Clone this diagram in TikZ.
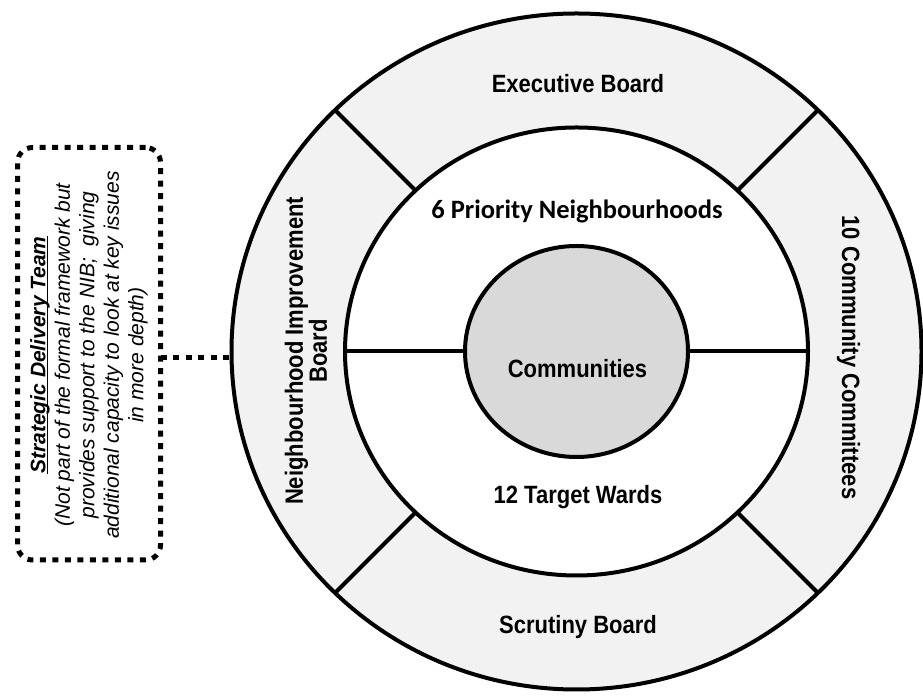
\documentclass[tikz,border=0pt]{standalone}
\usepackage{fontspec}
\setmainfont{Liberation Sans}
\newfontfamily\narrowfont[FakeStretch=0.88]{Liberation Sans}
\newfontfamily\calfont{Carlito}
\usetikzlibrary{shapes.geometric}
\definecolor{ringgray}{HTML}{F2F2F2}
\definecolor{coregray}{HTML}{D9D9D9}
\newcommand{\sdtul}[1]{\setbox0\hbox{#1}\leavevmode\rlap{\rule[-3pt]{\wd0}{1.6pt}}\box0}
\begin{document}
\begin{tikzpicture}[x=1pt,y=1pt,
  ring/.style={ellipse, draw=black, line width=4pt, inner sep=0pt, outer sep=0pt},
  divider/.style={draw=black, line width=4pt},
  lbl/.style={font=\narrowfont\bfseries\fontsize{25}{24}\selectfont, inner sep=0pt, anchor=base},
  dotline/.style={draw=black, line width=5pt, dash pattern=on 6pt off 6.5pt},
]
\useasboundingbox (0,0) rectangle (923,698);
\coordinate (c) at (576.5,346.5);
\node[ring, fill=ringgray, minimum width=690pt, minimum height=676pt] (outer) at (c) {};
\node[ring, fill=white, minimum width=463pt, minimum height=448pt] (mid) at (c) {};
\draw[divider] (outer.45) -- (mid.45);
\draw[divider] (outer.135) -- (mid.135);
\draw[divider] (outer.225) -- (mid.225);
\draw[divider] (outer.315) -- (mid.315);
\node[ring, fill=coregray, minimum width=223pt, minimum height=211pt] (core) at (c) {};
\draw[divider] (mid.west) -- (core.west);
\draw[divider] (core.east) -- (mid.east);
% labels
\node[lbl] (exec) at (578,605) {Executive Board};
\node[lbl, font=\calfont\bfseries\fontsize{26.5}{28}\selectfont] (prio) at (577,479.7) {6 Priority Neighbourhoods};
\node[lbl] (comm) at (577.5,320) {Communities};
\node[lbl] (wards) at (578,194.7) {12 Target Wards};
\node[lbl] (scrut) at (578,64.7) {Scrutiny Board};
\node[lbl, anchor=center, rotate=90, align=center] (nib) at (306,347) {Neighbourhood Improvement\\Board};
\node[lbl, rotate=-90] (comms) at (842,340.5) {10 Community Committees};
% strategic delivery team
\node[dotline, rectangle, rounded corners=15pt, minimum width=143pt, minimum height=412.5pt, inner sep=0pt, outer sep=0pt] (sdtbox) at (89,344.25) {};
\node[rotate=90, align=center, inner sep=0pt, font=\fontsize{21}{24.5}\selectfont\itshape] (sdttext) at (89,343)
  {\sdtul{\bfseries Strategic Delivery Team}\\(Not part of the formal framework but\\provides support to the NIB;\ \ giving\\additional capacity to look at key issues\\in more depth)};
\draw[dotline] (sdtbox.east |- outer.181) -- (outer.181);
\end{tikzpicture}
\end{document}
